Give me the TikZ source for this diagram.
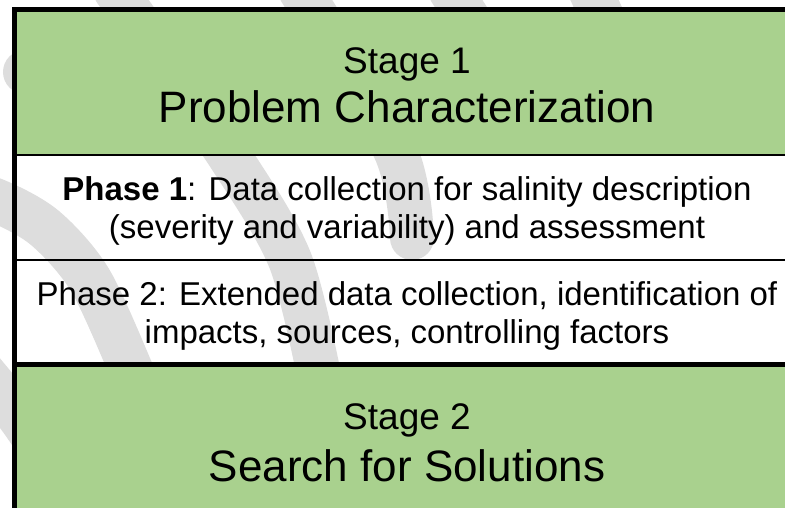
\documentclass[tikz,border=0pt]{standalone}
\usepackage{fontspec}
\setmainfont{Liberation Sans}
\definecolor{stagegreen}{RGB}{169,209,142}
\definecolor{swooshgray}{RGB}{221,221,221}
\begin{document}
\begin{tikzpicture}[x=1pt,y=-1pt,
  swoosh/.style={draw=swooshgray,line width=44pt,line cap=round},
  stagefill/.style={fill=stagegreen},
  frameline/.style={line width=5pt,black,line join=miter},
  divline/.style={line width=2.5pt,black},
  stagesmall/.style={font=\fontsize{37}{44}\selectfont,anchor=base,inner sep=0pt},
  stagebig/.style={font=\fontsize{44}{52}\selectfont,anchor=base,inner sep=0pt},
  phasetext/.style={font=\fontsize{33}{38}\selectfont,anchor=base,inner sep=0pt}]
\useasboundingbox (0,0) rectangle (785,507);

% faded background swooshes
\draw[swoosh] plot[smooth] coordinates {(-70,180) (-5,200) (45,228) (90,280) (132,372) (150,420)};
\draw[swoosh] plot[smooth] coordinates {(25,72) (90,100) (140,130)};
\draw[swoosh] plot[smooth] coordinates {(115,-10) (230,157) (290,260) (320,380)};
\draw[swoosh] plot[smooth] coordinates {(300,-10) (395,150) (412,238)};
\draw[swoosh] plot[smooth] coordinates {(450,-10) (520,100)};
\draw[swoosh] plot[smooth] coordinates {(590,-10) (640,100)};
\draw[swoosh] plot[smooth] coordinates {(-40,345) (20,418) (60,480)};

% stage boxes
\coordinate (s1nw) at (14.5,9.5);
\coordinate (s1se) at (815,155);
\coordinate (s2nw) at (14.5,364.5);
\coordinate (s2se) at (815,520);
\fill[stagefill] (s1nw) rectangle (s1se);
\fill[stagefill] (s2nw) rectangle (s2se);

% phase dividers and frame
\draw[divline] (14.5,155) -- (815,155);
\draw[divline] (14.5,260) -- (815,260);
\draw[frameline] (815,9.5) -- (14.5,9.5) -- (14.5,520);
\draw[frameline] (14.5,364.5) -- (815,364.5);

% texts
\node[stagesmall] (s1a) at (407,73) {Stage 1};
\node[stagebig]   (s1b) at (407,122) {Problem Characterization};
\node[phasetext]  (p1a) at (407,200) {\textbf{Phase 1}: Data collection for salinity description};
\node[phasetext]  (p1b) at (407,238) {(severity and variability) and assessment};
\node[phasetext]  (p2a) at (407,305) {Phase 2: Extended data collection, identification of};
\node[phasetext]  (p2b) at (407,343) {impacts, sources, controlling factors};
\node[stagesmall] (s2a) at (407,429) {Stage 2};
\node[stagebig]   (s2b) at (407,481) {Search for Solutions};
\end{tikzpicture}
\end{document}
